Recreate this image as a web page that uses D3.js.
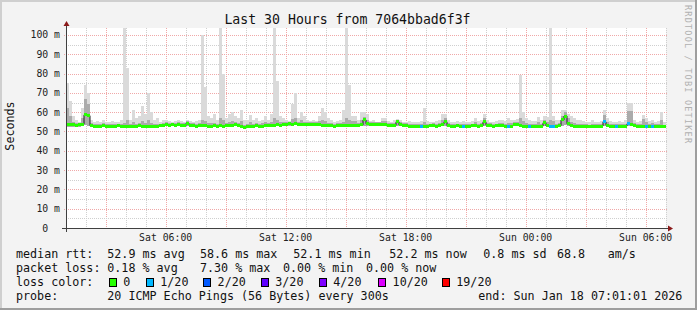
<!DOCTYPE html>
<html>
<head>
<meta charset="utf-8">
<script src="https://cdn.jsdelivr.net/npm/d3@7"></script>
<style>
body { margin: 0; background: #f3f3f3; }
svg { display: block; }
text { font-family: "DejaVu Sans Mono", monospace; white-space: pre; }
</style>
</head>
<body>
<div class="chart"></div>
<script>
// ---- data (ms), one sample per 9 minutes, 30 hours ending at endTime ----
var endTime = Date.UTC(2026, 0, 18, 7, 1, 1);
var spanHours = 30;
var stepSec = 540;

var median = [
  53.6, 53.4, 53.5, 53.3, 53.4, 53.8, 58.6, 58.2, 53.0, 52.8, 52.7, 52.6, 52.9, 52.5, 52.8, 52.6, 52.7, 52.9, 52.6, 52.8,
  52.8, 52.6, 52.7, 52.5, 52.9, 52.7, 52.6, 52.8, 52.7, 52.5, 52.7, 52.9, 53.2, 53.5, 53.3, 53.4, 53.2, 53.5, 53.3, 53.0,
  54.2, 53.2, 53.0, 52.8, 52.9, 53.1, 53.0, 52.8, 52.7, 52.9, 52.8, 53.0, 52.8, 53.2, 53.0, 53.3, 53.4, 53.1, 52.6, 52.3,
  52.6, 52.8, 52.7, 52.9, 52.6, 52.8, 53.0, 52.9, 53.2, 53.0, 53.4, 53.2, 53.6, 53.8, 53.9, 53.8, 54.0, 53.7, 53.8, 53.6,
  53.8, 53.6, 53.5, 53.6, 53.4, 53.2, 53.0, 53.1, 52.9, 52.8, 53.0, 53.2, 53.1, 53.3, 53.2, 53.0, 53.3, 53.1, 53.4, 56.0,
  54.0, 53.8, 53.6, 53.7, 53.5, 53.6, 53.4, 53.2, 53.0, 53.1, 55.0, 53.4, 53.2, 53.0, 52.8, 52.7, 52.6, 52.8, 52.5, 52.7,
  52.8, 52.9, 53.0, 52.8, 53.1, 53.8, 55.0, 53.0, 52.8, 52.6, 52.9, 52.7, 52.5, 52.8, 52.6, 52.9, 53.0, 52.8, 53.0, 55.0,
  53.3, 53.0, 52.8, 52.9, 53.1, 53.0, 52.8, 52.6, 52.8, 53.4, 53.5, 53.0, 52.8, 52.7, 52.5, 52.7, 52.6, 52.8, 52.7, 54.5,
  52.9, 52.6, 52.5, 52.8, 53.0, 56.0, 58.0, 54.0, 53.0, 52.8, 52.6, 52.7, 52.5, 52.6, 52.4, 52.7, 52.5, 52.6, 52.8, 55.0,
  53.2, 52.8, 52.6, 52.5, 52.7, 52.6, 52.8, 54.0, 53.5, 52.9, 52.7, 52.6, 52.8, 52.6, 52.5, 52.7, 52.6, 52.8, 52.5, 52.4
];

var smokeMin = [
  52.4, 52.3, 52.4, 52.2, 52.3, 52.6, 53.2, 53.0, 52.2, 52.1, 52.0, 52.0, 52.2, 51.9, 52.1, 52.0, 52.0, 52.2, 52.0, 52.1,
  52.1, 52.0, 52.0, 51.9, 52.2, 52.0, 52.0, 52.1, 52.0, 51.9, 52.0, 52.2, 52.4, 52.6, 52.5, 52.6, 52.4, 52.6, 52.5, 52.3,
  52.8, 52.4, 52.3, 52.1, 52.2, 52.3, 52.3, 52.1, 52.0, 52.2, 52.1, 52.3, 52.1, 52.4, 52.3, 52.5, 52.6, 52.4, 52.0, 51.7,
  52.0, 52.1, 52.0, 52.2, 52.0, 52.1, 52.3, 52.2, 52.4, 52.3, 52.6, 52.4, 52.8, 53.0, 53.0, 53.0, 53.2, 52.9, 53.0, 52.8,
  53.0, 52.8, 52.7, 52.8, 52.6, 52.4, 52.3, 52.4, 52.2, 52.1, 52.3, 52.4, 52.4, 52.5, 52.4, 52.3, 52.5, 52.4, 52.6, 53.0,
  53.0, 53.0, 52.8, 52.9, 52.7, 52.8, 52.6, 52.4, 52.3, 52.4, 53.0, 52.6, 52.4, 52.3, 52.1, 52.0, 52.0, 52.1, 51.9, 52.0,
  52.1, 52.2, 52.3, 52.1, 52.4, 52.8, 53.0, 52.3, 52.1, 52.0, 52.2, 52.0, 51.9, 52.1, 52.0, 52.2, 52.3, 52.1, 52.3, 53.0,
  52.6, 52.3, 52.1, 52.2, 52.4, 52.3, 52.1, 52.0, 52.1, 52.6, 52.7, 52.3, 52.1, 52.0, 51.9, 52.0, 52.0, 52.1, 52.0, 53.0,
  52.2, 52.0, 51.9, 52.1, 52.3, 53.0, 53.2, 52.8, 52.3, 52.1, 52.0, 52.0, 51.9, 52.0, 51.8, 52.0, 51.9, 52.0, 52.1, 53.0,
  52.5, 52.1, 52.0, 51.9, 52.0, 52.0, 52.1, 52.8, 52.6, 52.2, 52.0, 52.0, 52.1, 52.0, 51.9, 52.0, 52.0, 52.1, 51.9, 51.8
];

var smokeMid = [
  62, 58, 55, 54.5, 54.5, 57, 67, 64, 54.3, 54, 54, 53.8, 54.2, 53.8, 54, 53.9, 54, 54.1, 53.9, 54.5,
  56, 53.9, 55, 53.8, 54.5, 55.5, 54.5, 56, 54.5, 53.8, 54, 54.1, 54.5, 54.8, 54.6, 54.6, 54.5, 54.8, 54.6, 54.3,
  55.5, 54.5, 54.2, 54, 54.2, 56, 55.5, 54.5, 54.2, 54.5, 54.1, 57, 56, 54.5, 55, 55.5, 55, 54.5, 55.5, 53.6,
  53.9, 55, 54, 54.5, 53.9, 54.2, 55, 54.2, 55, 57, 56, 55, 55, 55, 55.1, 56.5, 57, 55, 56, 55,
  55, 54.9, 54.8, 54.9, 55.5, 56, 55.5, 54.5, 54.2, 54, 54.3, 54.5, 55, 57, 56, 55.5, 55.5, 54.5, 56, 57.5,
  56, 55, 55, 54.9, 54.7, 55.5, 55.5, 54.5, 54.2, 54.5, 56, 54.8, 54.4, 54.2, 54, 53.9, 53.8, 54, 53.8, 55,
  54, 54.1, 54.2, 54, 54.4, 56, 57, 54.5, 54, 53.8, 54.1, 53.9, 53.8, 54, 53.8, 54.1, 55, 54, 54.3, 57,
  54.6, 54.2, 54, 54.1, 54.4, 54.3, 54, 54.5, 54.2, 54.7, 54.8, 57, 55.5, 54.5, 53.8, 53.9, 53.8, 55, 54, 56,
  55, 56, 55.5, 54, 54.2, 58, 60, 57, 55, 54.5, 54, 53.9, 53.7, 53.8, 53.6, 54, 53.7, 53.8, 54, 58.5,
  55, 54, 53.8, 53.8, 53.9, 53.8, 54, 60.5, 60.5, 54.2, 53.9, 53.8, 56.5, 55, 53.8, 54.5, 53.8, 54, 56, 53.6
];

var smokeMax = [
  75, 66, 58, 56, 55, 62, 74, 70, 56, 55, 55.5, 55, 56, 55, 55, 55.5, 55, 55, 56, 104,
  83, 56, 61, 57, 58, 63, 59, 70, 60, 56, 57, 55, 56, 56, 55.5, 55, 55.5, 56, 55.5, 55,
  56, 55.5, 55, 55.5, 56, 100, 73, 58, 57, 59, 56, 104, 80, 57, 59, 60, 58, 57, 61, 56,
  56, 58.5, 56, 57, 55.5, 56, 58, 56, 59, 104, 76, 58, 57, 56, 55.5, 64, 70, 57, 60, 58,
  56, 55.5, 56, 55.5, 58, 62, 60, 57, 56, 55, 55.5, 56, 61, 104, 74, 58, 58, 56, 60, 60,
  58.8, 55.5, 56, 55, 55, 57, 57, 55.5, 55, 56, 56.5, 56, 55, 55, 55.5, 55, 55, 55, 55.5, 62,
  55.5, 55, 55, 55.5, 56, 59, 59, 56, 55, 55, 55.5, 55, 55.5, 55, 55, 55.5, 57, 55.5, 56, 59,
  56, 55, 55, 55.5, 56, 56, 55.5, 57, 56, 56, 56.5, 79.5, 60, 57, 56, 55.5, 55.5, 57.5, 56, 58,
  57.5, 104, 58, 56, 56, 61, 61, 59, 58, 57, 56, 56, 55.5, 55, 55, 56, 55, 55, 55.5, 61,
  57, 55.5, 55, 55, 55.5, 55, 56, 64.5, 64.5, 56, 55, 55.5, 58.6, 57, 55.5, 56, 55, 55.5, 60, 55
];

// lost pings (of 20) per sample
var loss = [
  0, 0, 0, 0, 0, 0, 0, 0, 0, 0, 0, 0, 0, 0, 0, 0, 0, 0, 0, 0,
  0, 0, 0, 0, 0, 0, 0, 0, 0, 0, 0, 0, 0, 0, 0, 0, 0, 0, 0, 0,
  0, 0, 0, 0, 0, 0, 0, 0, 0, 0, 0, 0, 0, 0, 0, 0, 0, 0, 0, 0,
  0, 0, 0, 0, 0, 0, 0, 0, 0, 0, 0, 0, 0, 0, 0, 0, 0, 0, 0, 0,
  0, 0, 0, 0, 0, 0, 0, 0, 0, 0, 0, 0, 0, 0, 0, 0, 0, 0, 0, 0,
  0, 0, 0, 0, 0, 0, 0, 0, 0, 0, 0, 0, 0, 0, 0, 0, 0, 0, 1, 0,
  0, 0, 0, 0, 0, 0, 0, 0, 0, 0, 0, 0, 1, 0, 0, 0, 0, 0, 0, 0,
  0, 0, 0, 0, 0, 0, 0, 1, 0, 0, 0, 0, 0, 0, 1, 0, 0, 0, 0, 0,
  0, 1, 1, 0, 0, 0, 0, 0, 0, 0, 0, 0, 0, 0, 0, 0, 0, 0, 0, 1,
  0, 0, 0, 1, 0, 0, 0, 1, 0, 0, 0, 0, 0, 1, 0, 1, 0, 0, 0, 0
];

var yMaxMs = 103.6;
var yLabelTicks = [0, 10, 20, 30, 40, 50, 60, 70, 80, 90, 100];
var lossLevels = [0, 1, 2, 3, 4, 10, 19];
var lossLabels = ['0', '1/20', '2/20', '3/20', '4/20', '10/20', '19/20'];
var lossColors = ['#26ff00', '#00b8ff', '#0059ff', '#5e00ff', '#7e00ff', '#dd00ff', '#ff0000'];

var title = 'Last 30 Hours from 7064bbad6f3f';
var rttStats = ['median rtt:', '52.9 ms avg', '58.6 ms max', '52.1 ms min', '52.2 ms now', '0.8 ms sd', '68.8', 'am/s'];
var lossStats = ['packet loss:', '0.18 % avg', '7.30 % max', '0.00 % min', '0.00 % now'];
var probeInfo = ['probe:', '20 ICMP Echo Pings (56 Bytes) every 300s', 'end: Sun Jan 18 07:01:01 2026'];

/*-------------------------------------------------------*/
var W = 697, H = 310;
var plot = { left: 66, right: 666, top: 28, bottom: 228 };

var svg = d3.select('.chart').append('svg')
    .attr('width', W)
    .attr('height', H);

// canvas + 3d frame
svg.append('rect').attr('width', W).attr('height', H).attr('fill', '#f3f3f3');
svg.append('rect').attr('x', 0).attr('y', 0).attr('width', W).attr('height', 2).attr('fill', '#cfcfcf');
svg.append('rect').attr('x', 0).attr('y', 0).attr('width', 2).attr('height', H).attr('fill', '#cfcfcf');
svg.append('rect').attr('x', 0).attr('y', H - 2).attr('width', W).attr('height', 2).attr('fill', '#9e9e9e');
svg.append('rect').attr('x', W - 2).attr('y', 0).attr('width', 2).attr('height', H).attr('fill', '#9e9e9e');

svg.append('rect')
    .attr('x', plot.left).attr('y', plot.top)
    .attr('width', plot.right - plot.left).attr('height', plot.bottom - plot.top)
    .attr('fill', '#ffffff');

// scales
var startTime = endTime - spanHours * 3600 * 1000;
var x = d3.scaleUtc()
    .domain([new Date(startTime), new Date(endTime)])
    .range([plot.left, plot.right]);
var y = d3.scaleLinear()
    .domain([0, yMaxMs])
    .range([plot.bottom, plot.top]);

var times = median.map((d, i) => new Date(startTime + i * stepSec * 1000));
var tEnd = (i) => new Date(startTime + (i + 1) * stepSec * 1000);

// grid
var grid = svg.append('g').attr('shape-rendering', 'crispEdges');
var hours = d3.utcHour.every(1).range(new Date(startTime), new Date(endTime));
hours.forEach((h) => {
    var major = h.getUTCHours() % 3 === 0;
    var px = Math.round(x(h)) + 0.5;
    grid.append('line')
        .attr('x1', px).attr('x2', px)
        .attr('y1', plot.top).attr('y2', plot.bottom + (major ? 2 : 0))
        .attr('stroke', major ? '#f0a8a8' : '#cfcfcf')
        .attr('stroke-dasharray', '1,1');
});
d3.range(0, yMaxMs, 5).forEach((v) => {
    var major = v % 10 === 0;
    if (v === 0) return;
    var py = Math.round(y(v)) + 0.5;
    grid.append('line')
        .attr('x1', plot.left - (major ? 2 : 0)).attr('x2', plot.right + 2)
        .attr('y1', py).attr('y2', py)
        .attr('stroke', major ? '#f0a8a8' : '#cfcfcf')
        .attr('stroke-dasharray', '1,1');
});

// smoke
var smoke = svg.append('g').attr('shape-rendering', 'crispEdges');
smoke.selectAll('.smk')
    .data(smokeMax)
    .enter().append('rect')
    .attr('x', (d, i) => x(times[i]))
    .attr('width', (d, i) => x(tEnd(i)) - x(times[i]))
    .attr('y', (d) => y(Math.min(d, yMaxMs)))
    .attr('height', (d, i) => y(smokeMin[i]) - y(Math.min(d, yMaxMs)))
    .attr('fill', '#dadada');
smoke.selectAll('.smkMid')
    .data(smokeMid)
    .enter().append('rect')
    .attr('x', (d, i) => x(times[i]))
    .attr('width', (d, i) => x(tEnd(i)) - x(times[i]))
    .attr('y', (d) => y(d))
    .attr('height', (d, i) => Math.max(0, y(smokeMin[i]) - y(d)))
    .attr('fill', '#ababab');

// median line (black)
var medPts = median.map((d, i) => [x(times[i]), y(d)]);
medPts.push([x(new Date(endTime)), y(median[median.length - 1])]);
svg.append('path')
    .attr('d', d3.line().curve(d3.curveStepAfter)(medPts))
    .attr('fill', 'none')
    .attr('stroke', '#202020')
    .attr('stroke-width', 1);

// loss coloured median band
var lossColor = (l) => {
    var c = lossColors[0];
    lossLevels.forEach((lv, k) => { if (l >= lv) c = lossColors[k]; });
    return c;
};
svg.append('g').attr('shape-rendering', 'crispEdges')
    .selectAll('rect')
    .data(median)
    .enter().append('rect')
    .attr('x', (d, i) => x(times[i]))
    .attr('width', (d, i) => x(tEnd(i)) - x(times[i]))
    .attr('y', (d) => y(d) - 1.5)
    .attr('height', 3)
    .attr('fill', (d, i) => lossColor(loss[i]));

// axes
var axisCol = '#404040';
svg.append('line')
    .attr('x1', plot.left - 4).attr('x2', plot.right + 3)
    .attr('y1', plot.bottom + 0.5).attr('y2', plot.bottom + 0.5)
    .attr('stroke', axisCol).attr('shape-rendering', 'crispEdges');
svg.append('line')
    .attr('x1', plot.left + 0.5).attr('x2', plot.left + 0.5)
    .attr('y1', plot.bottom + 4).attr('y2', plot.top - 3)
    .attr('stroke', axisCol).attr('shape-rendering', 'crispEdges');
svg.append('path')
    .attr('d', `M${plot.right + 2},${plot.bottom - 2.5} L${plot.right + 7},${plot.bottom + 0.5} L${plot.right + 2},${plot.bottom + 3.5} Z`)
    .attr('fill', '#8b1a1a');
svg.append('path')
    .attr('d', `M${plot.left - 2.5},${plot.top - 2} L${plot.left + 0.5},${plot.top - 7} L${plot.left + 3.5},${plot.top - 2} Z`)
    .attr('fill', '#8b1a1a');

// y tick labels
svg.selectAll('.ylab')
    .data(yLabelTicks)
    .enter().append('text')
    .attr('x', 60)
    .attr('y', (d) => y(d) + 3.5)
    .attr('text-anchor', 'end')
    .attr('font-size', '9.8px')
    .attr('fill', '#222')
    .text((d) => d === 0 ? '0\u00a0\u00a0' : `${d} m`);

// x tick labels
var fmt = d3.utcFormat('%a %H:%M');
svg.selectAll('.xlab')
    .data(d3.utcHour.every(6).range(new Date(startTime), new Date(endTime)))
    .enter().append('text')
    .attr('x', (d) => x(d))
    .attr('y', 241)
    .attr('text-anchor', 'middle')
    .attr('font-size', '9.8px')
    .attr('fill', '#222')
    .text(fmt);

// title and side texts
svg.append('text')
    .attr('x', 347.5).attr('y', 24)
    .attr('text-anchor', 'middle')
    .attr('font-size', '13.2px')
    .attr('fill', '#111')
    .text(title);
svg.append('text')
    .attr('transform', 'translate(14,126) rotate(-90)')
    .attr('text-anchor', 'middle')
    .attr('font-size', '11.7px')
    .attr('fill', '#111')
    .text('Seconds');
svg.append('text')
    .attr('transform', 'translate(685,5) rotate(90)')
    .attr('font-size', '8.5px')
    .attr('fill', '#b0b0b0')
    .attr('textLength', 138)
    .attr('lengthAdjust', 'spacing')
    .text('RRDTOOL / TOBI OETIKER');

// legend
var lg = svg.append('g').attr('font-size', '11.7px').attr('fill', '#111');
var rttX = [16, 107.3, 200, 293.3, 389.3, 483.3, 557, 607.7];
rttStats.forEach((s, k) => lg.append('text').attr('x', rttX[k]).attr('y', 258).text(s));
var lossX = [16, 107.3, 200, 283, 366];
lossStats.forEach((s, k) => lg.append('text').attr('x', lossX[k]).attr('y', 272).text(s));
lg.append('text').attr('x', 16).attr('y', 286).text('loss color:');
var boxX = [108.7, 145.7, 203, 260.7, 318.7, 378, 441.7];
lossLabels.forEach((s, k) => {
    lg.append('rect')
        .attr('x', boxX[k] + 0.5).attr('y', 278.5)
        .attr('width', 7).attr('height', 8)
        .attr('fill', lossColors[k])
        .attr('stroke', '#000').attr('stroke-width', 1)
        .attr('shape-rendering', 'crispEdges');
    lg.append('text').attr('x', boxX[k] + 14.6).attr('y', 286).text(s);
});
var probeX = [16, 107.3, 478.3];
probeInfo.forEach((s, k) => lg.append('text').attr('x', probeX[k]).attr('y', 300).text(s));
</script>
</body>
</html>
